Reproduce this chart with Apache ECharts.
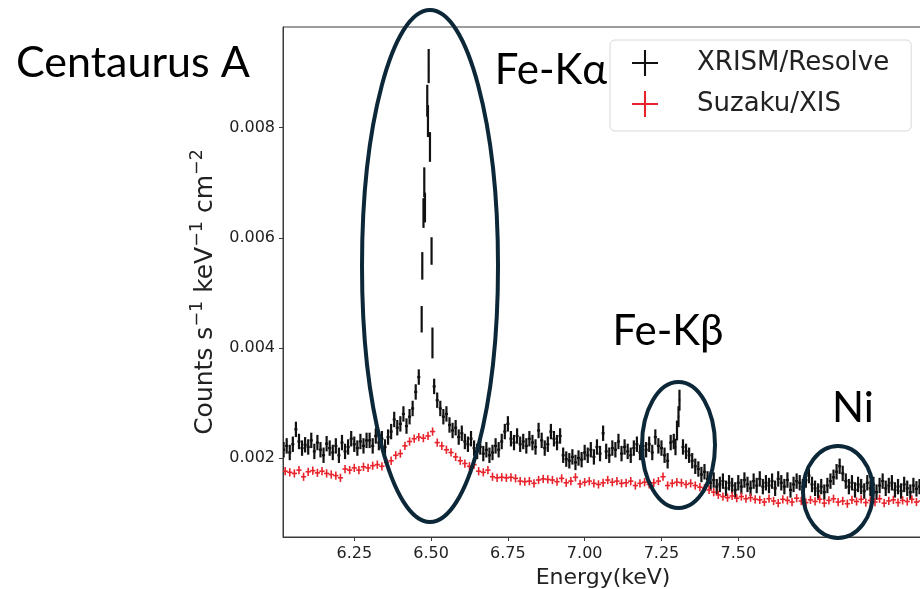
<!DOCTYPE html>
<html>
<head>
<meta charset="utf-8">
<script src="https://cdn.jsdelivr.net/npm/echarts@6.0.0/dist/echarts.min.js"></script>
<style>
  html, body { margin: 0; padding: 0; background: #fff; }
  #chart { width: 920px; height: 589px; }
</style>
</head>
<body>
<div id="chart"></div>
<script>
// Flux values are in units of 1e-3 counts s^-1 keV^-1 cm^-2.

// XRISM/Resolve spectrum: regular 0.01 keV bins starting at 6.02 keV
// (null where the finer line-core bins below take over).
const resolveStart = 6.02;
const resolveStep = 0.01;
const resolveCounts = [
  2.15, 2.22, 2.10, 2.25, 2.52, 2.30, 2.18, 2.24,
  2.20, 2.32, 2.12, 2.28, 2.15, 2.05, 2.26, 2.18, 2.10, 2.22,
  2.05, 2.28, 2.12, 2.20, 2.35, 2.25, 2.18, 2.30, 2.22, 2.32,
  2.32, 2.22, 2.40, 2.28, 2.35, 2.20, 2.38, 2.48, 2.70, 2.55,
  2.62, 2.80, 2.58, 2.75, 2.90, 3.20, 3.47, null, null, null,
  null, 3.30, 3.05, 2.90, 2.75, 2.80, 2.60, 2.50, 2.55, 2.38,
  2.45, 2.30, 2.25, 2.35, 2.18, 2.12, 2.20, 2.08, 2.15, 2.05,
  2.10, 2.22, 2.15, 2.30, 2.48, 2.62, 2.35, 2.28, 2.40, 2.25,
  2.30, 2.22, 2.35, 2.28, 2.20, 2.50, 2.32, 2.18, 2.25, 2.48,
  2.35, 2.28, 2.40, 2.05, 1.98, 1.95, 2.02, 1.92, 2.00, 1.97,
  2.10, 2.05, 2.15, 2.02, 2.20, 2.08, 2.45, 2.12, 2.05, 2.18,
  2.15, 2.30, 2.08, 2.20, 2.12, 2.05, 2.18, 2.25, 2.10, 2.22,
  2.15, 2.25, 2.10, 2.38, 2.22, 2.18, 2.05, 1.95, 2.28, 2.30,
  null, null, 2.20, 2.12, 2.05, 1.95, 1.85, 1.80, 1.70, 1.75,
  1.62, 1.55, 1.60, 1.48, 1.52, 1.58, 1.45, 1.55, 1.50, 1.42,
  1.55, 1.48, 1.60, 1.52, 1.45, 1.58, 1.50, 1.62, 1.48, 1.55,
  1.50, 1.58, 1.45, 1.62, 1.55, 1.48, 1.60, 1.42, 1.52, 1.58,
  1.55, 1.48, 1.60, 1.68, 1.52, 1.45, 1.40, 1.48, 1.38, 1.50,
  1.58, 1.65, 1.75, 1.85, 1.72, 1.58, 1.48, 1.55, 1.42, 1.52,
  1.48, 1.40, 1.55, 1.45, 1.52, 1.38, 1.50, 1.58, 1.45, 1.50,
  1.55, 1.42, 1.48, 1.40, 1.52, 1.45, 1.38, 1.50, 1.44, 1.48
];
const resolveError = 0.14;

// Finely binned line cores: [energy keV, flux, 1-sigma error]
const resolveFeKaCore = [
  [6.4694, 4.52, 0.24],
  [6.4714, 5.49, 0.25],
  [6.4753, 6.45, 0.27],
  [6.4779, 7.01, 0.27],
  [6.4801, 6.55, 0.27],
  [6.4876, 8.49, 0.29],
  [6.4899, 8.12, 0.29],
  [6.4922, 9.12, 0.31],
  [6.4964, 7.65, 0.27],
  [6.5016, 5.76, 0.25],
  [6.5045, 4.09, 0.28]
];
const resolveFeKbCore = [
  [7.2956, 2.20, 0.15],
  [7.3005, 2.50, 0.18],
  [7.3054, 2.75, 0.19],
  [7.3086, 3.05, 0.19]
];

// Suzaku/XIS spectrum: 0.015 keV bins starting at 6.025 keV.
const suzakuStart = 6.025;
const suzakuStep = 0.015;
const suzakuCounts = [
  1.76, 1.74, 1.72, 1.78, 1.66, 1.75, 1.77, 1.73, 1.76, 1.72,
  1.70, 1.68, 1.64, 1.80, 1.78, 1.82,
  1.78, 1.84, 1.82, 1.86, 1.88, 1.85, 1.92, 1.95, 2.05, 2.08,
  2.22, 2.30, 2.35, 2.38, 2.36, 2.40, 2.48, 2.28,
  2.22, 2.15, 2.10, 2.02, 1.95, 1.90, 1.85, 1.88,
  1.76, 1.74, 1.78, 1.66, 1.64, 1.65,
  1.64, 1.65, 1.63, 1.58, 1.57, 1.58, 1.54, 1.60, 1.62, 1.61,
  1.60, 1.57, 1.63, 1.55, 1.58, 1.65, 1.53, 1.56,
  1.58, 1.54, 1.52, 1.55, 1.60, 1.56, 1.58, 1.54,
  1.55, 1.58, 1.50, 1.54, 1.56, 1.52, 1.55, 1.58, 1.66, 1.50,
  1.54, 1.56, 1.55, 1.52, 1.54, 1.50, 1.47, 1.45, 1.42,
  1.38, 1.33, 1.30, 1.28, 1.31, 1.27, 1.30, 1.26, 1.28, 1.25,
  1.24, 1.20, 1.26, 1.22, 1.18, 1.25, 1.23, 1.20, 1.27, 1.22,
  1.19, 1.24, 1.21, 1.25, 1.18, 1.23, 1.26, 1.20, 1.22, 1.17,
  1.24, 1.21, 1.25, 1.19, 1.23, 1.20, 1.26, 1.18, 1.22, 1.24,
  1.19, 1.23, 1.21, 1.25, 1.20, 1.22
];
const suzakuError = 0.075;

const xTickValues = [6.25, 6.50, 6.75, 7.00, 7.25, 7.50];
const yTickValues = [2, 4, 6, 8];

const seriesNames = ['XRISM/Resolve', 'Suzaku/XIS'];
const lineLabels = [
  { text: 'Fe-K\u03b1', x: 551, y: 70 },
  { text: 'Fe-K\u03b2', x: 668, y: 331 },
  { text: 'Ni', x: 853, y: 408 }
];
const lineRegions = [
  { cx: 430, cy: 266, rx: 68, ry: 256 },
  { cx: 678.5, cy: 445, rx: 36.5, ry: 63 },
  { cx: 838, cy: 492, rx: 35, ry: 46 }
];

// Build [energy, flux, error, half-bin-width] rows for the error-bar series.
const resolveRows = [];
resolveCounts.forEach((v, i) => {
  if (v !== null) resolveRows.push([resolveStart + i * resolveStep, v, resolveError, resolveStep / 2]);
});
resolveFeKaCore.forEach(([e, v, err]) => resolveRows.push([e, v, err, 0.0012]));
resolveFeKbCore.forEach(([e, v, err]) => resolveRows.push([e, v, err, 0.0025]));

const suzakuRows = suzakuCounts.map((v, i) => [suzakuStart + i * suzakuStep, v, suzakuError, 0.0085]);

function errorBars(color, width) {
  return function (params, api) {
    const x = api.value(0), y = api.value(1), e = api.value(2), hw = api.value(3);
    const lo = api.coord([x, y - e]);
    const hi = api.coord([x, y + e]);
    const l = api.coord([x - hw, y]);
    const r = api.coord([x + hw, y]);
    const style = { stroke: color, lineWidth: width };
    return {
      type: 'group',
      children: [
        { type: 'line', shape: { x1: lo[0], y1: lo[1], x2: hi[0], y2: hi[1] }, style },
        { type: 'line', shape: { x1: l[0], y1: l[1], x2: r[0], y2: r[1] }, style }
      ]
    };
  };
}

const BLACK = '#111111';
const RED = '#e8232b';
const NAVY = '#0c2737';
const plusIcon = 'path://M0,4.6H10V5.4H0Z M4.6,0H5.4V10H4.6Z';
const ANNOT_FONT = '43px Lato';

const chart = echarts.init(document.getElementById('chart'), null, { renderer: 'canvas' });

const graphics = [
  {
    type: 'text', x: 16, y: 63, z: 100,
    style: { text: 'Centaurus A', font: ANNOT_FONT, fill: '#000', align: 'left', verticalAlign: 'middle' }
  }
];
lineLabels.forEach(l => graphics.push({
  type: 'text', x: l.x, y: l.y, z: 100,
  style: { text: l.text, font: '42px Lato', fill: '#000', align: 'center', verticalAlign: 'middle' }
}));
lineRegions.forEach(r => graphics.push({
  type: 'ellipse', z: 100,
  shape: { cx: r.cx, cy: r.cy, rx: r.rx, ry: r.ry },
  style: { fill: null, stroke: NAVY, lineWidth: 4 }
}));

chart.setOption({
  animation: false,
  backgroundColor: '#fff',
  grid: {
    left: 283, top: 27, right: -3, bottom: 52,
    outerBoundsMode: 'none',
    containLabel: false,
    show: true, borderColor: '#3a3a3a', borderWidth: 1, backgroundColor: '#fff'
  },
  legend: {
    left: 610, top: 40,
    orient: 'vertical',
    data: seriesNames.map(n => ({ name: n, icon: plusIcon })),
    itemWidth: 26, itemHeight: 26, itemGap: 15,
    backgroundColor: '#fff',
    borderColor: '#d8d8d8', borderWidth: 1, borderRadius: 5,
    padding: [10, 22, 14, 22],
    textStyle: { fontFamily: 'DejaVu Sans', fontSize: 26, color: '#222', padding: [0, 0, 0, 34] },
    z: 50
  },
  xAxis: {
    type: 'value',
    min: 6.018, max: 8.1013,
    name: 'Energy(keV)',
    nameLocation: 'middle', nameGap: 29,
    nameTextStyle: { fontFamily: 'DejaVu Sans', fontSize: 22, color: '#222' },
    axisLine: { show: true, onZero: false, lineStyle: { color: '#3a3a3a' } },
    axisTick: { show: true, customValues: xTickValues, length: 4, lineStyle: { color: '#3a3a3a' } },
    axisLabel: {
      customValues: xTickValues, margin: 9,
      fontFamily: 'DejaVu Sans', fontSize: 16, color: '#222',
      formatter: v => v.toFixed(2)
    },
    splitLine: { show: false }
  },
  yAxis: {
    type: 'value',
    min: 0.565, max: 9.829,
    name: '{m|Counts s}{s|\u22121}{m| keV}{s|\u22121}{m| cm}{s|\u22122}',
    nameLocation: 'middle', nameGap: 59, nameRotate: 90,
    nameTextStyle: {
      fontFamily: 'DejaVu Sans', fontSize: 25, color: '#222',
      padding: [0, 20, 0, 0],
      rich: {
        m: { fontFamily: 'DejaVu Sans', fontSize: 25, lineHeight: 34, color: '#222' },
        s: { fontFamily: 'DejaVu Sans', fontSize: 17.5, lineHeight: 18, verticalAlign: 'top', color: '#222' }
      }
    },
    axisLine: { show: true, onZero: false, lineStyle: { color: '#3a3a3a' } },
    axisTick: { show: true, customValues: yTickValues, length: 4, lineStyle: { color: '#3a3a3a' } },
    axisLabel: {
      customValues: yTickValues, margin: 8,
      fontFamily: 'DejaVu Sans', fontSize: 16, color: '#222',
      formatter: v => (v / 1000).toFixed(3)
    },
    splitLine: { show: false }
  },
  series: [
    {
      name: seriesNames[0], type: 'custom',
      renderItem: errorBars(BLACK, 2.2),
      itemStyle: { color: BLACK },
      encode: { x: 0, y: 1 },
      data: resolveRows, clip: true, z: 3
    },
    {
      name: seriesNames[1], type: 'custom',
      renderItem: errorBars(RED, 1.6),
      itemStyle: { color: RED },
      encode: { x: 0, y: 1 },
      data: suzakuRows, clip: true, z: 4
    }
  ],
  graphic: graphics
});
</script>
</body>
</html>
